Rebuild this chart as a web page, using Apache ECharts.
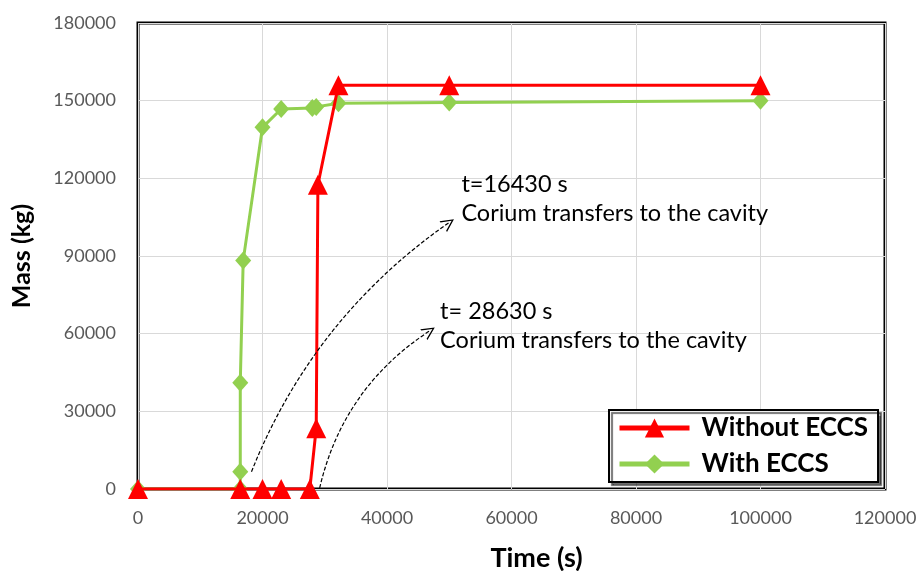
<!DOCTYPE html>
<html>
<head>
<meta charset="utf-8">
<script src="https://cdn.jsdelivr.net/npm/echarts@6/dist/echarts.min.js"></script>
<style>
html,body{margin:0;padding:0;background:#fff;}
#chart{width:920px;height:571px;}
</style>
</head>
<body>
<div id="chart"></div>
<script>
// ---- data ----
const seriesNames = ['Without ECCS', 'With ECCS'];
const timeWithout = [0, 16430, 20000, 23000, 27600, 28630, 28900, 32200, 50000, 100000];
const massWithout = [0, 0, 0, 0, 0, 23500, 117500, 156000, 156000, 156000];
const timeWith = [0, 16430, 16430, 16430, 16900, 20000, 23000, 28000, 28630, 32200, 50000, 100000];
const massWith = [0, 0, 6700, 41000, 88300, 139700, 146800, 147200, 147600, 149000, 149300, 150000];
const xTicks = [0, 20000, 40000, 60000, 80000, 100000, 120000];
const yTicks = [0, 30000, 60000, 90000, 120000, 150000, 180000];
const noteTexts = ['t=16430 s\nCorium transfers to the cavity', 't= 28630 s\nCorium transfers to the cavity'];
const noteAnchors = [[51950, 112000], [48530, 63000]];
const arrowFrom = [[18230, 6670], [29180, 400]];
const arrowTo = [[49900, 102800], [46800, 61000]];
const arrowBend = [0.15, 0.2];

const pair = (xs, ys) => xs.map((x, i) => [x, ys[i]]);
const FONT = 'Lato';
const arrowHead = 'path://M5,0 L10,12 L8.8,12 L5,2.6 L1.2,12 L0,12 Z';

function arrowSeries(i) {
  return {
    type: 'lines', coordinateSystem: 'cartesian2d', silent: true, z: 4,
    symbol: ['none', arrowHead], symbolSize: [10, 13],
    lineStyle: { type: [4, 2], color: '#000', width: 1.2, curveness: arrowBend[i], opacity: 1 },
    itemStyle: { color: '#000' },
    data: [{ coords: [arrowFrom[i], arrowTo[i]] }]
  };
}

const chart = echarts.init(document.getElementById('chart'));
chart.setOption({
  animation: false,
  backgroundColor: '#fff',
  textStyle: { fontFamily: FONT },
  grid: { left: 138, right: 35, top: 23, bottom: 82, show: true, borderColor: '#000', borderWidth: 3, backgroundColor: 'transparent', containLabel: false, outerBoundsMode: 'none' },
  xAxis: {
    type: 'value', min: xTicks[0], max: xTicks[xTicks.length - 1], interval: xTicks[1] - xTicks[0],
    name: 'Time (s)', nameLocation: 'middle', nameGap: 56,
    nameTextStyle: { fontFamily: FONT, fontWeight: 'bold', fontSize: 27, color: '#000', padding: [0, 0, 0, 50] },
    axisLine: { show: false }, axisTick: { show: false },
    axisLabel: { color: '#595959', fontSize: 18, margin: 20, fontFamily: FONT, formatter: v => String(v) },
    splitLine: { show: true, lineStyle: { color: '#D9D9D9', width: 1 } }
  },
  yAxis: {
    type: 'value', min: yTicks[0], max: yTicks[yTicks.length - 1], interval: yTicks[1] - yTicks[0],
    name: 'Mass (kg)', nameLocation: 'middle', nameGap: 104, nameRotate: 90,
    nameTextStyle: { fontFamily: FONT, fontWeight: 'bold', fontSize: 25, color: '#000' },
    axisLine: { show: false }, axisTick: { show: false },
    axisLabel: { color: '#595959', fontSize: 18, margin: 22, fontFamily: FONT, formatter: v => String(v) },
    splitLine: { show: true, lineStyle: { color: '#D9D9D9', width: 1 } }
  },
  legend: {
    orient: 'vertical', left: 609, top: 410,
    padding: [5, 10, 5, 8], itemGap: 10, itemWidth: 70, itemHeight: 24,
    backgroundColor: '#fff', borderColor: '#000', borderWidth: 2,
    shadowColor: 'rgba(0,0,0,0.55)', shadowOffsetX: 3, shadowOffsetY: 3, shadowBlur: 1,
    lineStyle: { width: 5 },
    textStyle: { fontFamily: FONT, fontWeight: 'bold', fontSize: 26, color: '#000', padding: [0, 0, 0, 7] },
    data: seriesNames
  },
  series: [
    {
      name: seriesNames[1], type: 'line', z: 2,
      data: pair(timeWith, massWith),
      symbol: 'diamond', symbolSize: [16, 18],
      lineStyle: { color: '#92D050', width: 3 },
      itemStyle: { color: '#92D050' },
      markPoint: {
        silent: true, symbol: 'circle', symbolSize: 0,
        label: { show: true, position: 'right', distance: 0, color: '#000', fontSize: 23.5, lineHeight: 29, fontFamily: FONT, align: 'left' },
        data: noteAnchors.map((c, i) => ({ coord: c, label: { formatter: noteTexts[i] } }))
      }
    },
    {
      name: seriesNames[0], type: 'line', z: 3,
      data: pair(timeWithout, massWithout),
      symbol: 'triangle', symbolSize: [20, 20],
      lineStyle: { color: '#FF0000', width: 3 },
      itemStyle: { color: '#FF0000' }
    },
    arrowSeries(0),
    arrowSeries(1)
  ]
});
</script>
</body>
</html>
